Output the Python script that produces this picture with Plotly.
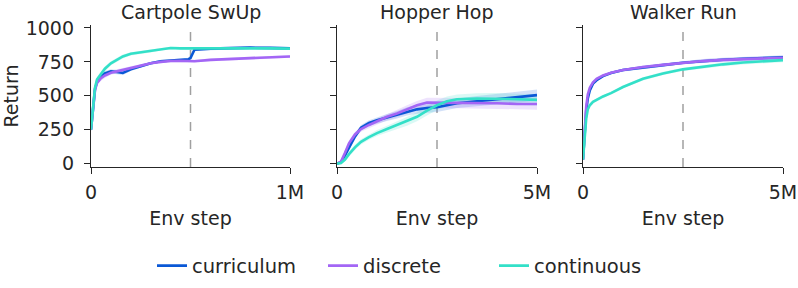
import plotly.graph_objects as go

# ---------------- data ----------------
series_names = ["curriculum", "discrete", "continuous"]
series_colors = ["#0a58d6", "#a366f5", "#33e0c8"]

panel_titles = ["Cartpole SwUp", "Hopper Hop", "Walker Run"]
panel_xmax = [1e6, 5e6, 5e6]
panel_xticktext = [["0", "1M"], ["0", "5M"], ["0", "5M"]]
switch_steps = [0.5e6, 2.5e6, 2.5e6]
y_ticks = [0, 250, 500, 750, 1000]

# Cartpole SwUp (steps in millions)
cart_x = [0, 0.01, 0.02, 0.03, 0.05, 0.07, 0.1, 0.13, 0.16, 0.2, 0.25, 0.3,
          0.35, 0.4, 0.45, 0.49, 0.5, 0.52, 0.6, 0.7, 0.8, 0.9, 1.0]
cart_curriculum = [250, 410, 550, 600, 640, 665, 680, 675, 668, 695, 720, 740,
                   755, 760, 765, 770, 778, 840, 848, 852, 855, 853, 850]
cart_discrete = [250, 400, 540, 595, 630, 650, 670, 680, 690, 705, 720, 740,
                 750, 757, 758, 755, 752, 755, 765, 770, 778, 782, 790]
cart_continuous = [250, 420, 560, 620, 660, 700, 740, 765, 790, 810, 820, 830,
                   845, 852, 850, 850, 850, 850, 850, 852, 855, 850, 848]
cart_spread = [15, 20, 20, 20, 20, 18, 15, 15, 15, 12, 12, 10,
               10, 10, 10, 10, 10, 10, 10, 10, 10, 10, 10]

# Hopper Hop (steps in millions)
hop_x = [0, 0.1, 0.2, 0.3, 0.45, 0.6, 0.8, 1.0, 1.25, 1.5, 1.75, 2.0, 2.25,
         2.5, 2.75, 3.0, 3.5, 4.0, 4.5, 5.0]
hop_curriculum = [0, 10, 60, 120, 200, 265, 300, 320, 340, 360, 385, 400, 410,
                  415, 430, 445, 460, 475, 490, 505]
hop_discrete = [0, 15, 80, 150, 215, 255, 285, 310, 345, 370, 400, 430, 450,
                450, 445, 445, 445, 445, 440, 440]
hop_continuous = [0, 5, 30, 70, 120, 160, 195, 225, 255, 285, 310, 345, 390,
                  430, 460, 475, 480, 480, 475, 470]
hop_spread = [5, 10, 15, 20, 20, 20, 20, 22, 25, 28, 30, 32, 35,
              35, 35, 35, 38, 40, 40, 42]

# Walker Run (steps in millions)
walk_x = [0, 0.04, 0.08, 0.12, 0.17, 0.25, 0.34, 0.5, 0.7, 1.0, 1.5, 2.0,
          2.5, 3.0, 3.5, 4.0, 4.5, 5.0]
walk_curriculum = [30, 220, 390, 480, 540, 590, 615, 645, 668, 690, 710, 726,
                   744, 757, 766, 773, 779, 784]
walk_discrete = [30, 250, 420, 510, 560, 600, 625, 650, 670, 690, 712, 728,
                 744, 756, 765, 771, 776, 781]
walk_continuous = [30, 180, 330, 400, 430, 455, 470, 495, 520, 565, 625, 665,
                   695, 715, 732, 745, 755, 763]
walk_spread = [10, 20, 20, 15, 12, 10, 10, 10, 10, 10, 12, 12,
               12, 14, 14, 15, 15, 15]

panels = [
    (cart_x, [cart_curriculum, cart_discrete, cart_continuous], cart_spread),
    (hop_x, [hop_curriculum, hop_discrete, hop_continuous], hop_spread),
    (walk_x, [walk_curriculum, walk_discrete, walk_continuous], walk_spread),
]

# ---------------- layout helpers ----------------
W, H = 798, 288
x_px = [(91, 290), (337, 537), (583, 783)]
y_top, y_bot = 25, 167
FONT = "DejaVu Sans"
INK = "#262626"
FS = 19


def hex_rgba(h, a):
    h = h.lstrip("#")
    return "rgba(%d,%d,%d,%.2f)" % (int(h[0:2], 16), int(h[2:4], 16), int(h[4:6], 16), a)


fig = go.Figure()

for p, (xs_m, ys_list, spread) in enumerate(panels):
    xa = "x" if p == 0 else "x%d" % (p + 1)
    ya = "y" if p == 0 else "y%d" % (p + 1)
    xs = [v * 1e6 for v in xs_m]
    for s, ys in enumerate(ys_list):
        col = series_colors[s]
        upper = [a + b for a, b in zip(ys, spread)]
        lower = [a - b for a, b in zip(ys, spread)]
        fig.add_trace(go.Scatter(
            x=xs + xs[::-1], y=upper + lower[::-1], fill="toself",
            fillcolor=hex_rgba(col, 0.18), line=dict(width=0),
            mode="lines", hoverinfo="skip", showlegend=False,
            xaxis=xa, yaxis=ya))
    for s, ys in enumerate(ys_list):
        fig.add_trace(go.Scatter(
            x=xs, y=ys, mode="lines", name=series_names[s],
            line=dict(color=series_colors[s], width=2.6),
            showlegend=(p == 0), legendgroup=series_names[s],
            xaxis=xa, yaxis=ya))

layout = dict(
    width=W, height=H,
    margin=dict(l=0, r=0, t=0, b=0, autoexpand=False),
    paper_bgcolor="white", plot_bgcolor="white",
    font=dict(family=FONT, size=FS, color=INK),
    showlegend=True,
    legend=dict(orientation="h", x=152 / W, xanchor="left",
                y=(H - 266) / H, yanchor="middle",
                font=dict(size=19.5, family=FONT, color=INK),
                itemwidth=30, traceorder="normal",
                entrywidth=126, entrywidthmode="pixels"),
)

shapes = []
annotations = []
for p in range(3):
    sfx = "" if p == 0 else str(p + 1)
    x0, x1 = x_px[p]
    layout["xaxis" + sfx] = dict(
        domain=[x0 / W, x1 / W], range=[0, panel_xmax[p]],
        anchor="y" + sfx, showgrid=False, zeroline=False, automargin=False,
        showline=True, linecolor=INK, linewidth=1.3,
        ticks="outside", ticklen=6, tickwidth=1.3, tickcolor=INK,
        tickvals=[0, panel_xmax[p]], ticktext=panel_xticktext[p],
        ticklabelstandoff=2,
        tickfont=dict(size=FS, family=FONT, color=INK),
        title=dict(text="Env step", font=dict(size=FS, family=FONT, color=INK), standoff=9),
        fixedrange=True)
    layout["yaxis" + sfx] = dict(
        domain=[(H - y_bot) / H, (H - y_top) / H], range=[-25, 1022],
        anchor="x" + sfx, showgrid=False, zeroline=False, automargin=False,
        showline=True, linecolor=INK, linewidth=1.3,
        ticks="outside", ticklen=6, tickwidth=1.3, tickcolor=INK,
        tickvals=y_ticks, showticklabels=(p == 0),
        ticklabelstandoff=6,
        tickfont=dict(size=FS, family=FONT, color=INK),
        title=dict(text="Return" if p == 0 else "",
                   font=dict(size=FS, family=FONT, color=INK), standoff=4),
        fixedrange=True)
    shapes.append(dict(type="line", xref="x" + sfx, yref="y" + sfx + " domain",
                       x0=switch_steps[p], x1=switch_steps[p], y0=0, y1=1,
                       line=dict(color="#a0a0a0", width=1.5, dash="dash"),
                       layer="below"))
    annotations.append(dict(text=panel_titles[p], xref="paper", yref="paper",
                            x=(x0 + x1) / 2 / W, y=(H - 12) / H,
                            xanchor="center", yanchor="middle", showarrow=False,
                            font=dict(size=FS, family=FONT, color=INK)))

layout["shapes"] = shapes
layout["annotations"] = annotations
fig.update_layout(**layout)

fig.write_html("out.html",
               config={"displayModeBar": False},
               post_script="document.body.style.margin='0';document.body.style.overflow='hidden';")
